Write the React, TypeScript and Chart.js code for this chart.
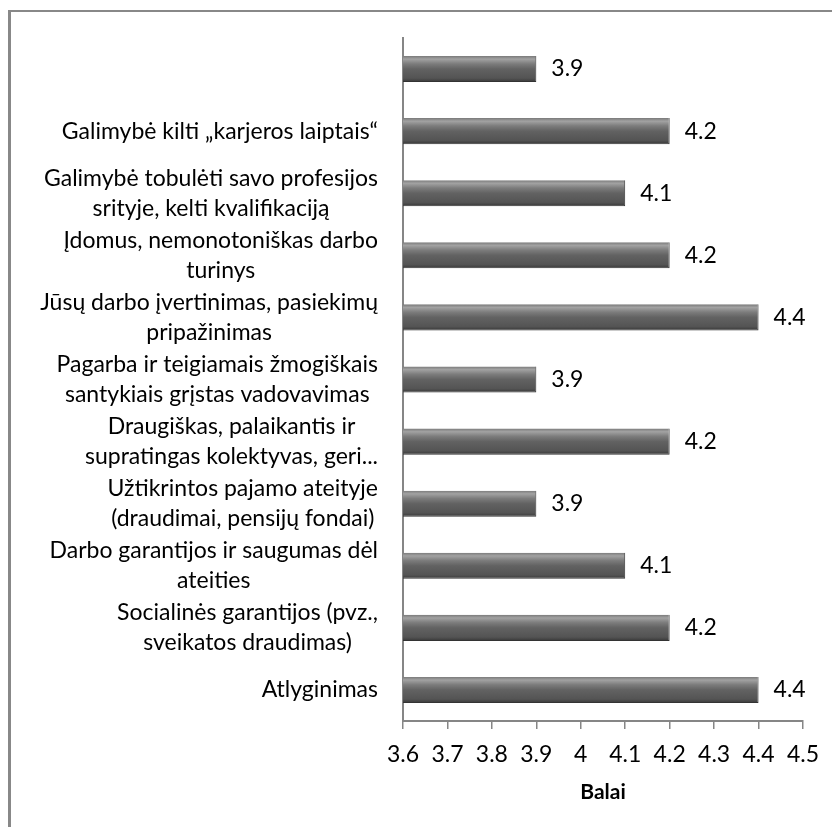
import React, { useEffect, useRef } from 'react';
import { Chart, registerables } from 'chart.js';
Chart.register(...registerables);

const categories: string[][] = [
  [''],
  ['Galimybė kilti „karjeros laiptais“'],
  ['Galimybė tobulėti savo profesijos', 'srityje, kelti kvalifikaciją'],
  ['Įdomus, nemonotoniškas darbo', 'turinys'],
  ['Jūsų darbo įvertinimas, pasiekimų', 'pripažinimas'],
  ['Pagarba ir teigiamais žmogiškais', 'santykiais grįstas vadovavimas'],
  ['Draugiškas, palaikantis ir', 'supratingas kolektyvas, geri...'],
  ['Užtikrintos pajamo ateityje', '(draudimai, pensijų fondai)'],
  ['Darbo garantijos ir saugumas dėl', 'ateities'],
  ['Socialinės garantijos (pvz.,', 'sveikatos draudimas)'],
  ['Atlyginimas'],
];
const values: number[] = [3.9, 4.2, 4.1, 4.2, 4.4, 3.9, 4.2, 3.9, 4.1, 4.2, 4.4];
const xMin = 3.6;
const xMax = 4.5;
const xStep = 0.1;
const axisTitle = 'Balai';

const FONT = 'Lato';
const FSIZE = 23;
const BAR_PCT = 0.42;

const fmt = (v: number) => String(Math.round(v * 10) / 10);

const framePlugin = {
  id: 'frame',
  beforeDraw(chart: any) {
    const { ctx, width, height } = chart;
    ctx.save();
    ctx.fillStyle = '#ffffff';
    ctx.fillRect(0, 0, width, height);
    ctx.fillStyle = '#888888';
    ctx.fillRect(8, 10, width - 8, 2);
    ctx.fillRect(8, 10, 3, height - 10);
    ctx.restore();
  },
};

const categoryLabelPlugin = {
  id: 'catLabels',
  afterDraw(chart: any) {
    const { ctx, chartArea } = chart;
    const yScale = chart.scales.y;
    ctx.save();
    ctx.font = `${FSIZE}px ${FONT}`;
    ctx.fillStyle = '#000000';
    ctx.textAlign = 'center';
    ctx.textBaseline = 'middle';
    const right = chartArea.left - 25;
    const lineH = 30;
    categories.forEach((lines, i) => {
      const yc = yScale.getPixelForValue(i);
      const w = Math.max(...lines.map((l) => ctx.measureText(l).width));
      const cx = right - w / 2;
      const y0 = yc - ((lines.length - 1) * lineH) / 2;
      lines.forEach((l, j) => ctx.fillText(l, cx, y0 + j * lineH));
    });
    ctx.restore();
  },
};

const valueLabelPlugin = {
  id: 'valLabels',
  afterDatasetsDraw(chart: any) {
    const { ctx } = chart;
    const meta = chart.getDatasetMeta(0);
    ctx.save();
    ctx.font = `${FSIZE}px ${FONT}`;
    ctx.fillStyle = '#000000';
    ctx.textAlign = 'left';
    ctx.textBaseline = 'middle';
    meta.data.forEach((el: any, i: number) => {
      ctx.fillText(fmt(values[i]), el.x + 15, el.y);
    });
    ctx.restore();
  },
};

export default function App() {
  const ref = useRef<HTMLCanvasElement | null>(null);
  useEffect(() => {
    if (!ref.current) return;
    const chart = new Chart(ref.current, {
      type: 'bar',
      data: {
        labels: categories.map((c) => c.join(' ')),
        datasets: [
          {
            data: values,
            backgroundColor: (c: any) => {
              const ch = c.chart;
              const area = ch.chartArea;
              const ys = ch.scales?.y;
              if (!area || !ys) return '#555555';
              const band = (area.bottom - area.top) / categories.length;
              const th = band * BAR_PCT;
              const yc = ys.getPixelForValue(c.dataIndex);
              const g = ch.ctx.createLinearGradient(0, yc - th / 2, 0, yc + th / 2);
              g.addColorStop(0, '#7a7a7a');
              g.addColorStop(0.12, '#a2a2a2');
              g.addColorStop(0.3, '#7c7c7c');
              g.addColorStop(0.5, '#626262');
              g.addColorStop(0.85, '#545454');
              g.addColorStop(1, '#383838');
              return g;
            },
            borderColor: '#333333',
            borderWidth: { top: 0, right: 1, bottom: 1, left: 0 },
            borderSkipped: 'start',
            barPercentage: BAR_PCT,
            categoryPercentage: 1,
          },
        ],
      },
      options: {
        indexAxis: 'y',
        responsive: false,
        animation: false,
        devicePixelRatio: 1,
        layout: { padding: { top: 38, right: 29, bottom: 0, left: 0 } },
        plugins: {
          legend: { display: false },
          tooltip: { enabled: false },
          title: { display: false },
        },
        scales: {
          x: {
            type: 'linear',
            min: xMin,
            max: xMax,
            ticks: {
              stepSize: xStep,
              color: '#000000',
              font: { family: FONT, size: FSIZE },
              padding: 12,
              maxRotation: 0,
              minRotation: 0,
              autoSkip: false,
              callback: (v: any) => fmt(Number(v)),
            },
            grid: {
              display: true,
              drawOnChartArea: false,
              drawTicks: true,
              tickLength: 8,
              color: '#868686',
              lineWidth: 1.5,
            },
            border: { display: true, color: '#868686', width: 2 },
            title: {
              display: true,
              text: axisTitle,
              color: '#000000',
              font: { family: FONT, size: 21, weight: 'bold' },
              padding: { top: 0, bottom: 22 },
            },
            afterFit: (s: any) => {
              s.height = 106;
            },
          },
          y: {
            type: 'category',
            ticks: { display: false },
            grid: { display: false },
            border: { display: true, color: '#868686', width: 2 },
            afterFit: (s: any) => {
              s.width = 403;
            },
          },
        },
      },
      plugins: [framePlugin, categoryLabelPlugin, valueLabelPlugin],
    } as any);
    return () => chart.destroy();
  }, []);
  return (
    <div style={{ position: 'fixed', left: 0, top: 0, width: 832, height: 827, background: '#fff' }}>
      <canvas ref={ref} width={832} height={827} style={{ display: 'block' }} />
    </div>
  );
}
